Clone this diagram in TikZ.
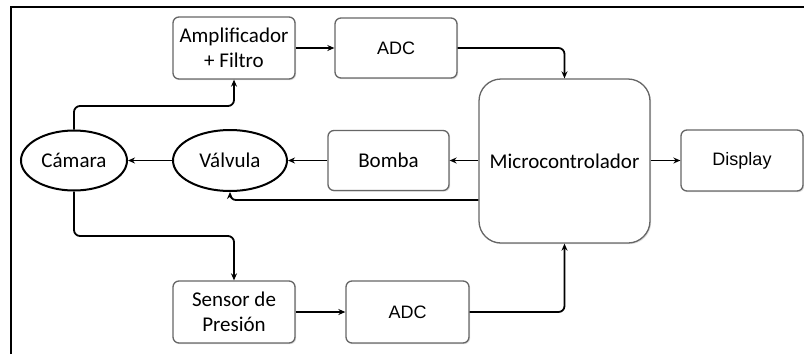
\documentclass[tikz,border=0pt]{standalone}
\usepackage{fontspec}
\setmainfont{Carlito}
\newfontfamily\arialf{Liberation Sans}
\usetikzlibrary{shapes.geometric,arrows.meta,shadows}
\begin{document}
\begin{tikzpicture}[x=1pt,y=-1pt,
  box/.style={draw=black!60, line width=1.3pt, rounded corners=6pt, fill=white,
    align=center, inner sep=0pt,
    drop shadow={opacity=0.25, shadow xshift=1.2pt, shadow yshift=-1.2pt},
    font=\fontsize{21}{25}\selectfont},
  ell/.style={draw=black, line width=2pt, ellipse, fill=white, inner sep=0pt,
    font=\fontsize{21}{25}\selectfont},
  arr/.style={draw=black, line width=1.8pt, rounded corners=6pt,
    -{Stealth[length=7pt,width=6pt]}},
  frameline/.style={draw=black, line width=2.5pt}]
\useasboundingbox (0,0) rectangle (804,354);
\fill[white] (0,0) rectangle (804,354);
\draw[frameline] (11,354) -- (11,7) -- (804,7);
% nodes
\node[box, minimum width=122pt, minimum height=62pt] (amp) at (234,48) {Amplificador\\+ Filtro};
\node[box, minimum width=122pt, minimum height=60pt, font=\arialf\fontsize{18}{21}\selectfont] (adc1) at (396,48) {ADC};
\node[box, minimum width=171pt, minimum height=164pt, rounded corners=22pt] (micro) at (564.5,161) {Microcontrolador};
\node[box, minimum width=122pt, minimum height=61pt, font=\arialf\fontsize{18}{21}\selectfont] (disp) at (742,160.5) {Display};
\node[box, minimum width=121pt, minimum height=60pt] (bomba) at (388.5,160.5) {Bomba};
\node[ell, minimum width=114pt, minimum height=61pt] (valv) at (230,160.5) {Válvula};
\node[ell, minimum width=106pt, minimum height=60pt] (cam) at (74,160.5) {Cámara};
\node[box, minimum width=122pt, minimum height=62pt] (sens) at (234,312) {Sensor de\\Presión};
\node[box, minimum width=123pt, minimum height=62pt, font=\arialf\fontsize{18}{21}\selectfont] (adc2) at (407.5,312) {ADC};
% bend levels
\coordinate (topbend) at (0,106);
\coordinate (botbend) at (0,236);
\coordinate (fb) at (0,200);
% connectors
\draw[arr] (amp) -- (adc1);
\draw[arr] (adc1.east) -| (micro.north);
\draw[arr] (micro.east |- disp) -- (disp.west);
\draw[arr] (micro.west |- bomba) -- (bomba.east);
\draw[arr] (bomba.west) -- (valv.east);
\draw[arr] (valv.west) -- (cam.east);
\draw[arr] (micro.west |- fb) -| (valv.south);
\draw[arr] (cam.north) -- (cam.north |- topbend) -| (amp.south);
\draw[arr] (cam.south) -- (cam.south |- botbend) -| (sens.north);
\draw[arr] (sens) -- (adc2);
\draw[arr] (adc2.east) -| (micro.south);
\end{tikzpicture}
\end{document}
